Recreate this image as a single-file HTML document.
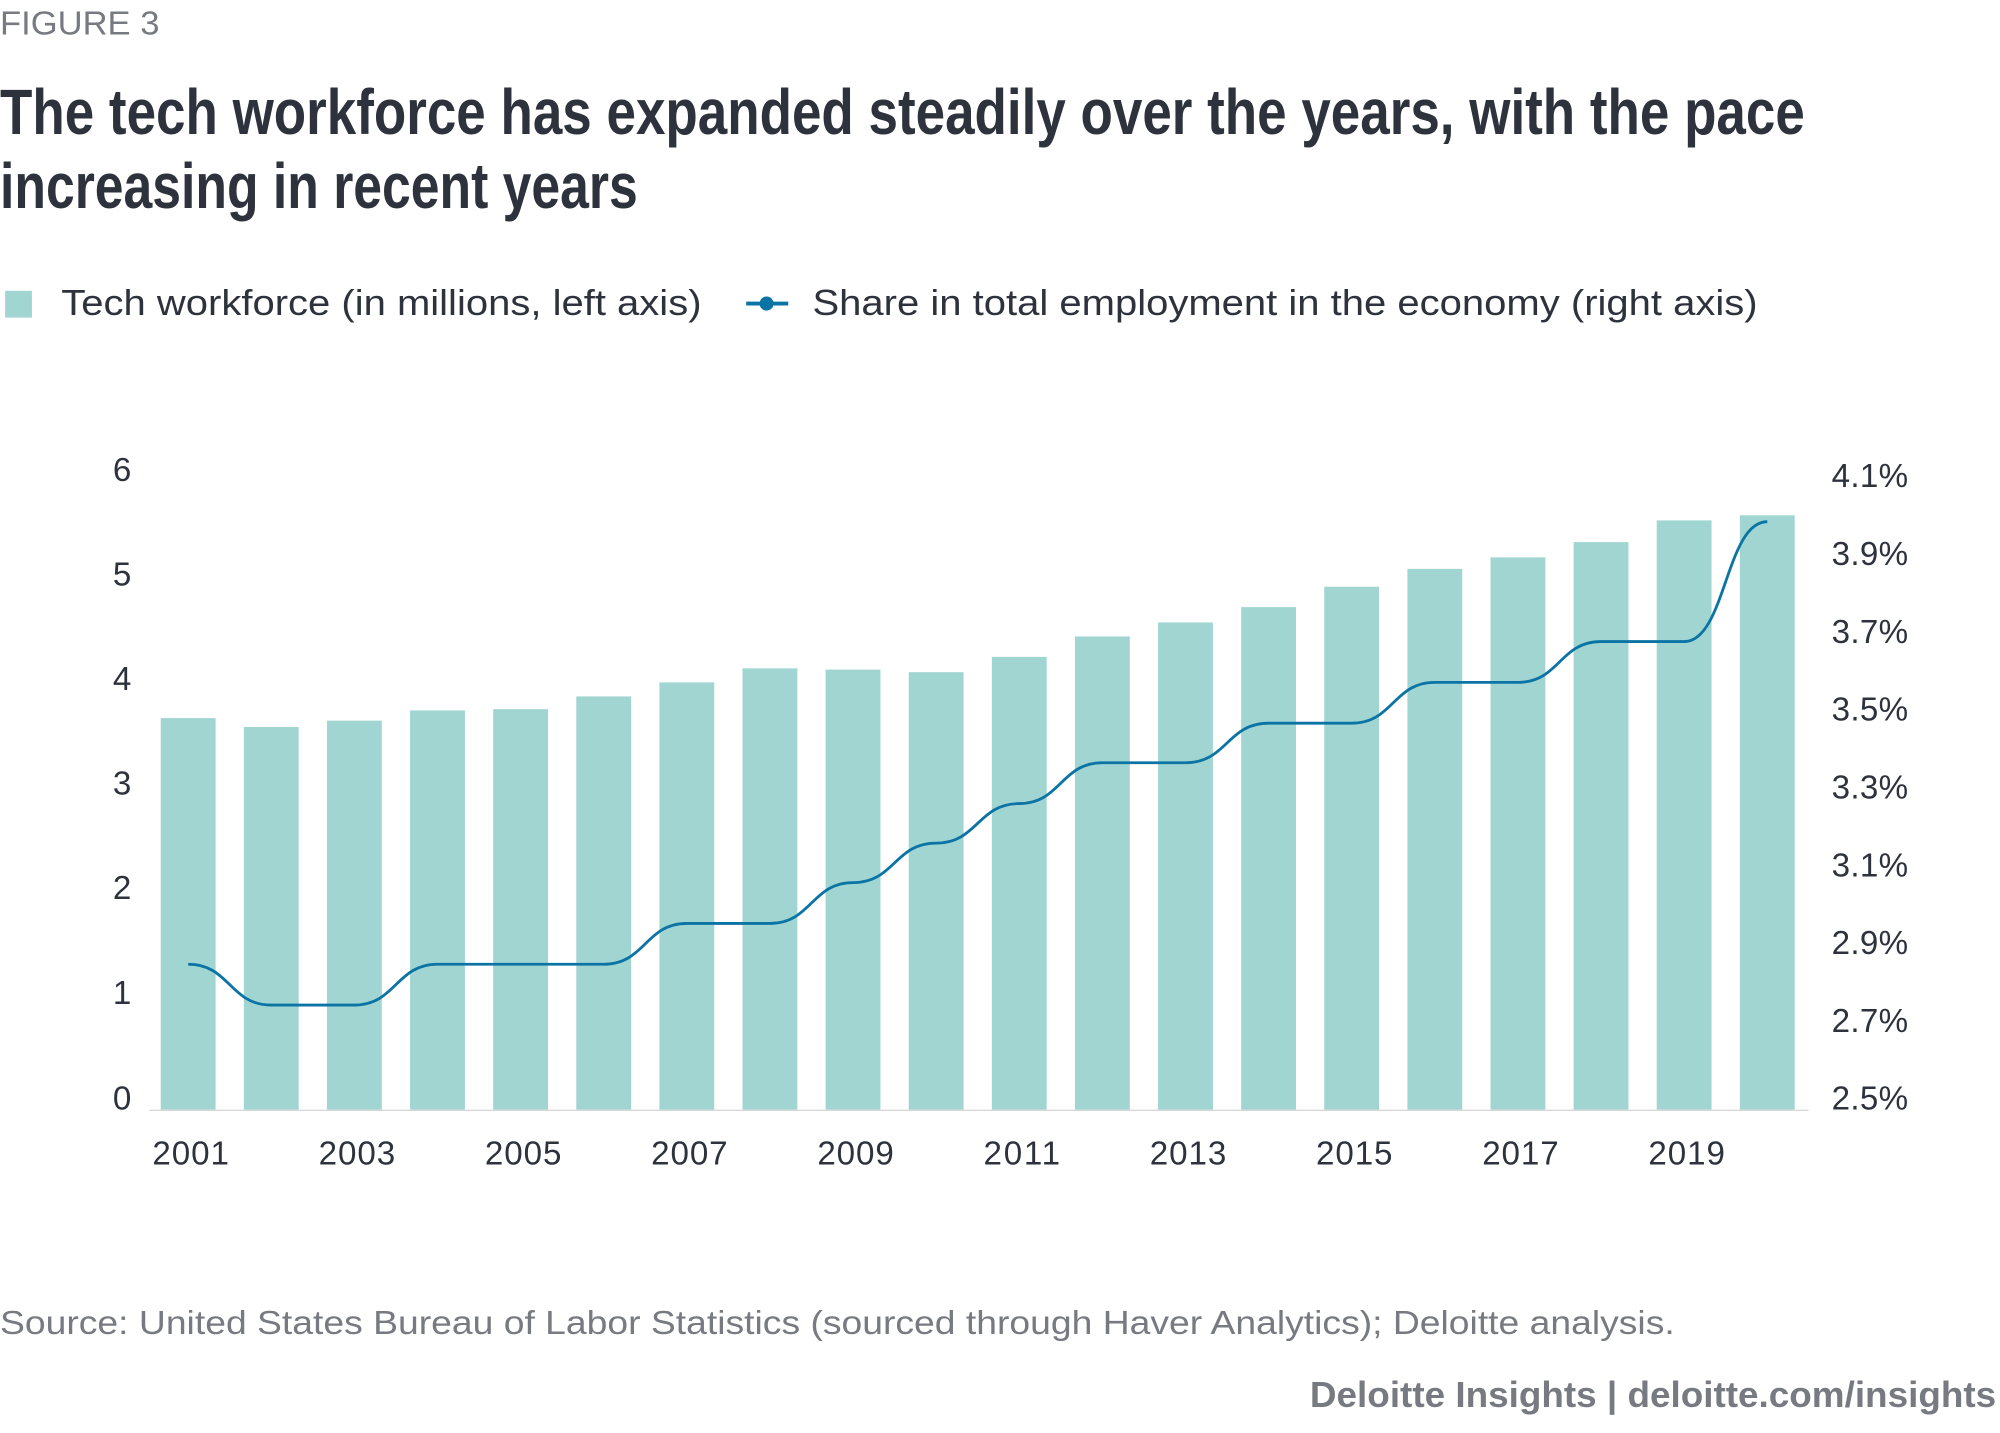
<!DOCTYPE html>
<html><head><meta charset="utf-8"><style>
html,body{margin:0;padding:0;background:#fff;}
svg{display:block;}
text{font-family:"Liberation Sans",sans-serif;}
</style></head><body>
<svg width="2000" height="1433" viewBox="0 0 1568 1123.5" xmlns="http://www.w3.org/2000/svg">
<text x="0" y="27" font-size="26" fill="#777a80" textLength="125" lengthAdjust="spacingAndGlyphs">FIGURE 3</text>
<g font-weight="bold" fill="#2d323c" font-size="50">
<text x="0" y="105" textLength="1415" lengthAdjust="spacingAndGlyphs" style="font-family:'Liberation Sans Narrow','Liberation Sans',sans-serif">The tech workforce has expanded steadily over the years, with the pace</text>
<text x="0" y="163" textLength="500" lengthAdjust="spacingAndGlyphs" style="font-family:'Liberation Sans Narrow','Liberation Sans',sans-serif">increasing in recent years</text>
</g>
<rect x="4" y="228" width="21" height="21" fill="#a0d5d1"/>
<text x="48" y="247" font-size="28" fill="#2d323c" textLength="502" lengthAdjust="spacingAndGlyphs">Tech workforce (in millions, left axis)</text>
<line x1="585" y1="238" x2="618" y2="238" stroke="#0b74a5" stroke-width="3"/>
<circle cx="601" cy="238" r="5.5" fill="#0b74a5"/>
<text x="637" y="247" font-size="28" fill="#2d323c" textLength="741" lengthAdjust="spacingAndGlyphs">Share in total employment in the economy (right axis)</text>
<g font-size="26" fill="#2d323c" text-anchor="end">
<text x="103" y="377">6</text><text x="103" y="459">5</text><text x="103" y="541">4</text><text x="103" y="623">3</text><text x="103" y="705">2</text><text x="103" y="787">1</text><text x="103" y="870">0</text>
</g>
<g font-size="26" fill="#2d323c">
<text x="1436" y="382" textLength="60">4.1%</text><text x="1436" y="443" textLength="60">3.9%</text><text x="1436" y="504" textLength="60">3.7%</text><text x="1436" y="565" textLength="60">3.5%</text><text x="1436" y="626" textLength="60">3.3%</text><text x="1436" y="687" textLength="60">3.1%</text><text x="1436" y="748" textLength="60">2.9%</text><text x="1436" y="809" textLength="60">2.7%</text><text x="1436" y="870" textLength="60">2.5%</text>
</g>
<g fill="#a0d5d1" id="bars"></g>
<line x1="117" y1="870.5" x2="1418" y2="870.5" stroke="#d8d8d8" stroke-width="1"/>
<g font-size="26" fill="#2d323c" text-anchor="middle" id="xl"></g>
<path id="ln" fill="none" stroke="#0b74a5" stroke-width="2.2"/>
<text x="0" y="1046" font-size="26" fill="#777a80" textLength="1313" lengthAdjust="spacingAndGlyphs">Source: United States Bureau of Labor Statistics (sourced through Haver Analytics); Deloitte analysis.</text>
<text x="1565" y="1103" font-size="28" font-weight="bold" fill="#777a80" text-anchor="end" textLength="538" lengthAdjust="spacingAndGlyphs">Deloitte Insights | deloitte.com/insights</text>
</svg>
<script>
var tops=[563,570,565,557,556,546,535,524,525,527,515,499,488,476,460,446,437,425,408,404];
var ly=[756,788,788,756,756,756,724,724,692,661,630,598,598,567,567,535,535,503,503,409];
var ns="http://www.w3.org/2000/svg",b=document.getElementById('bars'),xl=document.getElementById('xl');
var p=65.16,x0=126,w=43,d="";
for(var i=0;i<20;i++){var x=x0+p*i;var r=document.createElementNS(ns,'rect');
r.setAttribute('x',x);r.setAttribute('y',tops[i]);r.setAttribute('width',w);r.setAttribute('height',870-tops[i]);b.appendChild(r);
var c=x+w/2;
if(i%2==0){var t=document.createElementNS(ns,'text');t.setAttribute('x',c+2);t.setAttribute('y',913);t.setAttribute('textLength',60);t.textContent=2001+i;xl.appendChild(t);}
if(i==0)d="M"+c+","+ly[0];else{var pc=c-p;d+=" C"+(pc+p/2)+","+ly[i-1]+" "+(c-p/2)+","+ly[i]+" "+c+","+ly[i];}
}
document.getElementById('ln').setAttribute('d',d);
</script>
</body></html>
